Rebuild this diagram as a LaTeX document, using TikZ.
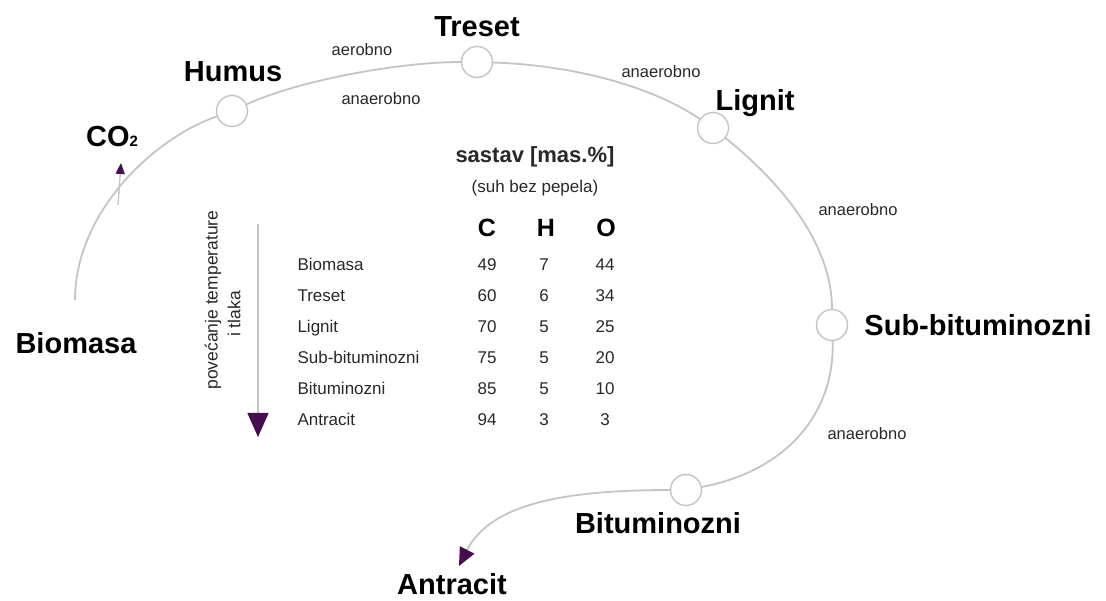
\documentclass[tikz,border=0pt]{standalone}
\usepackage{fontspec}
\setmainfont{Liberation Sans}
\usetikzlibrary{arrows.meta}
\definecolor{linec}{RGB}{196,196,196}
\definecolor{tipc}{RGB}{70,14,78}
\definecolor{txtc}{RGB}{40,40,40}
\begin{document}
\begin{tikzpicture}[x=1pt,y=-1pt,
  stage/.style={circle,draw=linec,line width=1.4pt,fill=white,minimum size=31pt,inner sep=0pt},
  big/.style={font=\fontsize{29}{32}\selectfont\bfseries,text=black},
  proc/.style={font=\fontsize{16.5}{18}\selectfont,text=txtc},
  conn/.style={draw=linec,line width=1.8pt},
  tab/.style={font=\fontsize{17}{19}\selectfont,text=txtc,text height=12pt,text depth=4pt},
  head/.style={font=\fontsize{25}{28}\selectfont\bfseries,text=black},
  tipsmall/.style={-{Triangle[length=11pt,width=9pt,color=tipc,fill=tipc]}},
  tipmid/.style={-{Triangle[length=18pt,width=16pt,color=tipc,fill=tipc]}},
  tipbig/.style={-{Triangle[length=24pt,width=21pt,color=tipc,fill=tipc]}}]
\useasboundingbox (0,0) rectangle (1106,601);

% stages
\coordinate (bio) at (75,300);
\node[stage] (hum) at (232,111) {};
\node[stage] (tre) at (477,62) {};
\node[stage] (lig) at (713,128) {};
\node[stage] (sub) at (832,325) {};
\node[stage] (bit) at (686,490) {};
\coordinate (ant) at (459,566);
\coordinate (co2s) at (118,205);
\coordinate (co2e) at (121,163);

% connectors
\draw[conn] (bio) .. controls (75,215) and (150,140) .. (hum);
\draw[conn] (hum) .. controls (300,80) and (400,62) .. (tre);
\draw[conn] (tre) .. controls (570,65) and (650,85) .. (lig);
\draw[conn] (lig) .. controls (790,190) and (832,250) .. (sub);
\draw[conn] (sub) .. controls (835,410) and (790,470) .. (bit);
\draw[conn,tipmid] (bit) .. controls (560,490) and (490,505) .. (ant);
\draw[conn,line width=1.4pt,tipsmall] (co2s) -- (co2e);

% stage labels
\node[big] (lbio) at (76,343) {Biomasa};
\node[big] (lco2) at (112,137) {CO{\fontsize{15}{15}\selectfont 2}};
\node[big] (lhum) at (233,72) {Humus};
\node[big] (ltre) at (477,27) {Treset};
\node[big] (llig) at (755,103) {Lignit};
\node[big] (lsub) at (978,325) {Sub-bituminozni};
\node[big] (lbit) at (658,523) {Bituminozni};
\node[big] (lant) at (452,584) {Antracit};

% process labels
\node[proc] (p1) at (362,50) {aerobno};
\node[proc] (p2) at (381,99) {anaerobno};
\node[proc] (p3) at (661,72) {anaerobno};
\node[proc] (p4) at (858,210) {anaerobno};
\node[proc] (p5) at (867,434) {anaerobno};

% table
\node[font=\fontsize{22}{24}\selectfont\bfseries,text=txtc] (title) at (535,157) {sastav [mas.\%]};
\node[font=\fontsize{17}{19}\selectfont,text=txtc] (sub2) at (535,188) {(suh bez pepela)};
\node[head] (hc) at (487,228) {C};
\node[head] (hh) at (546,228) {H};
\node[head] (ho) at (606,228) {O};
\foreach \n/\c/\h/\o [count=\i] in {Biomasa/49/7/44,Treset/60/6/34,Lignit/70/5/25,Sub-bituminozni/75/5/20,Bituminozni/85/5/10,Antracit/94/3/3}{
  \node[tab,anchor=west] (n\i) at (294,236+31*\i) {\n};
  \node[tab] (c\i) at (487,236+31*\i) {\c};
  \node[tab] (h\i) at (544,236+31*\i) {\h};
  \node[tab] (o\i) at (605,236+31*\i) {\o};
}

% vertical arrow
\coordinate (vt) at (258,224);
\coordinate (vb) at (258,437);
\draw[draw=linec,line width=1.4pt,tipbig] (vt) -- (vb);
\node[rotate=90,font=\fontsize{17.5}{19}\selectfont,text=txtc] (rot1) at (213,300) {povećanje temperature};
\node[rotate=90,font=\fontsize{17.5}{19}\selectfont,text=txtc] (rot2) at (234,314) {i tlaka};
\end{tikzpicture}
\end{document}
